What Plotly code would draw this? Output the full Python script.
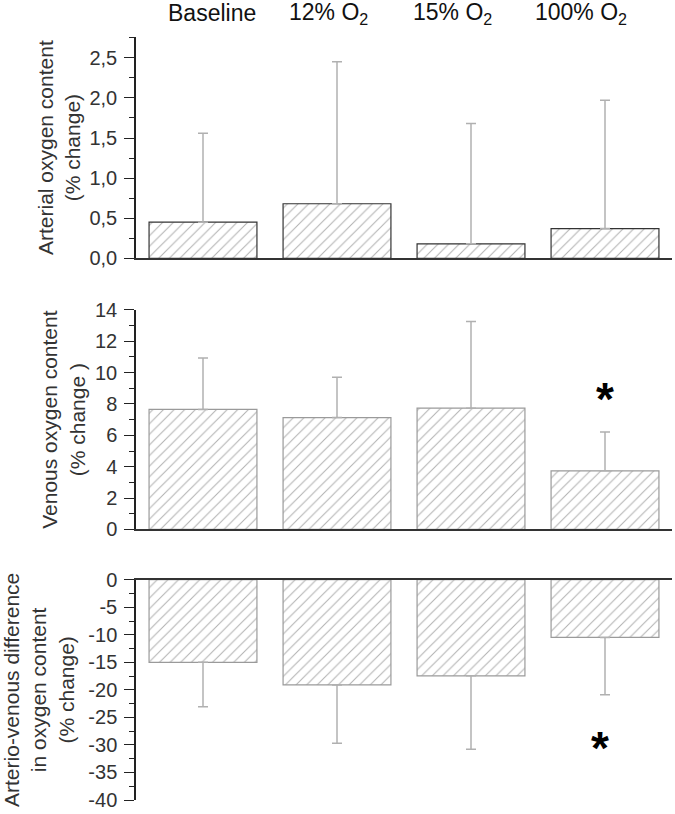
import plotly.graph_objects as go

categories = ["Baseline", "12% O<sub>2</sub>", "15% O<sub>2</sub>", "100% O<sub>2</sub>"]

arterial_mean = [0.45, 0.68, 0.18, 0.37]
arterial_sd = [1.11, 1.77, 1.50, 1.60]

venous_mean = [7.65, 7.13, 7.73, 3.74]
venous_sd = [3.28, 2.58, 5.53, 2.48]

avdiff_mean = [-15.0, -19.1, -17.45, -10.47]
avdiff_sd = [8.05, 10.6, 13.35, 10.43]

sig_venous = [None, None, None, 8.9]
sig_avdiff = [None, None, None, -28.6]

arterial_ticks = [0, 0.5, 1.0, 1.5, 2.0, 2.5]
arterial_ticktext = ["0,0", "0,5", "1,0", "1,5", "2,0", "2,5"]
venous_ticks = [0, 2, 4, 6, 8, 10, 12, 14]
venous_ticktext = ["0", "2", "4", "6", "8", "10", "12", "14"]
avdiff_ticks = [0, -5, -10, -15, -20, -25, -30, -35, -40]
avdiff_ticktext = ["0", "-5", "-10", "-15", "-20", "-25", "-30", "-35", "-40"]

FONT = "Liberation Sans, Arial, sans-serif"
x = list(range(len(categories)))

fig = go.Figure()

def bars(means, sds, xa, ya, outline, up=True):
    zeros = [0] * len(sds)
    fig.add_trace(go.Bar(
        x=x, y=means, xaxis=xa, yaxis=ya, width=0.805,
        marker=dict(color="white",
                    line=dict(color=outline, width=1.2),
                    pattern=dict(shape="/", size=7.5, solidity=0.14,
                                 fgcolor="#666666", bgcolor="white")),
        error_y=dict(type="data", symmetric=False,
                     array=sds if up else zeros,
                     arrayminus=zeros if up else sds,
                     color="#b0b0b0", thickness=1.5, width=5),
        showlegend=False, hoverinfo="skip"))

bars(arterial_mean, arterial_sd, "x", "y", "#333333", True)
bars(venous_mean, venous_sd, "x2", "y2", "#9a9a9a", True)
bars(avdiff_mean, avdiff_sd, "x3", "y3", "#9a9a9a", False)

xcommon = dict(range=[-0.5, 3.5], showgrid=False, zeroline=False,
               showticklabels=False, ticks="", showline=True,
               linecolor="#333333", linewidth=1.5, domain=[0, 1])
ycommon = dict(showgrid=False, zeroline=False, showline=True,
               linecolor="#222222", linewidth=1.5, ticks="outside",
               ticklen=10, tickwidth=1.3, tickcolor="#222222",
               ticklabelstandoff=3,
               tickfont=dict(family=FONT, size=20, color="#333333"),
               title_font=dict(family=FONT, size=21, color="#333333"))

fig.update_layout(
    width=675, height=814,
    margin=dict(l=136, r=3, t=37, b=8),
    paper_bgcolor="white", plot_bgcolor="white",
    bargap=0.2,
    xaxis=dict(xcommon, anchor="y"),
    xaxis2=dict(xcommon, anchor="y2"),
    xaxis3=dict(xcommon, anchor="y3", side="top"),
    yaxis=dict(ycommon, domain=[0.710, 1.0], anchor="x", range=[0, 2.76],
               tickvals=arterial_ticks, ticktext=arterial_ticktext,
               minor=dict(dtick=0.25, ticks="outside", ticklen=5, tickcolor="#222222"),
               title=dict(text="Arterial oxygen content<br>(% change)", standoff=3)),
    yaxis2=dict(ycommon, domain=[0.3546, 0.6424], anchor="x2", range=[0, 14],
                tickvals=venous_ticks, ticktext=venous_ticktext,
                minor=dict(dtick=1, ticks="outside", ticklen=5, tickcolor="#222222"),
                title=dict(text="Venous oxygen content<br>(% change )", standoff=4)),
    yaxis3=dict(ycommon, domain=[0.0, 0.2887], anchor="x3", range=[-40, 0],
                tickvals=avdiff_ticks, ticktext=avdiff_ticktext,
                minor=dict(dtick=2.5, ticks="outside", ticklen=5, tickcolor="#222222"),
                title=dict(text="Arterio-venous difference<br>in oxygen content<br>(% change)", standoff=12)),
)

label_shift = [9, -9, -19, -24]
for i, c in enumerate(categories):
    fig.add_annotation(x=i, y=1.0, xref="x", yref="paper", yshift=24,
                       text=c, showarrow=False, xshift=label_shift[i],
                       font=dict(family=FONT, size=23, color="#111111"),
                       yanchor="middle")

for i, v in enumerate(sig_venous):
    if v is not None:
        fig.add_annotation(x=i, y=v, xref="x2", yref="y2", text="<b>*</b>",
                           showarrow=False, yshift=-9,
                           font=dict(family=FONT, size=46, color="black"))
for i, v in enumerate(sig_avdiff):
    if v is not None:
        fig.add_annotation(x=i, y=v, xref="x3", yref="y3", text="<b>*</b>",
                           showarrow=False, xshift=-5, yshift=-11,
                           font=dict(family=FONT, size=46, color="black"))

fig.write_html("out.html", config={"displayModeBar": False},
               post_script="document.body.style.margin='0';")
